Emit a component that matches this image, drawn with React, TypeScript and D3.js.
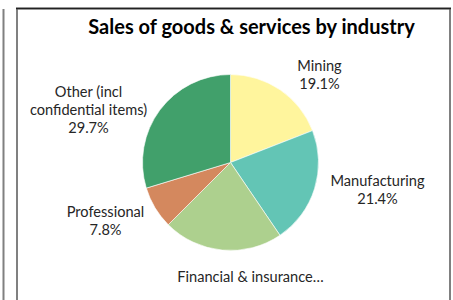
import * as d3 from 'd3';

const categories = ['Mining', 'Manufacturing', 'Financial & insurance…', 'Professional', 'Other (incl confidential items)'];
const shares = [19.1, 21.4, 22.0, 7.8, 29.7];
const colors = ['#FFF59D', '#63C5B5', '#ADD08E', '#D4885E', '#41A06B'];
const title = 'Sales of goods & services by industry';

// label placement relative to pie centre (Excel "best fit" look)
const labelLines: Record<string, string[]> = {
  Mining: ['Mining', '19.1%'],
  Manufacturing: ['Manufacturing', '21.4%'],
  'Financial & insurance…': ['Financial & insurance…'],
  Professional: ['Professional', '7.8%'],
  'Other (incl confidential items)': ['Other (incl', 'confidential items)', '29.7%'],
};
const labelPos: Record<string, [number, number]> = {
  Mining: [89, -87.5],
  Manufacturing: [147, 27.5],
  'Financial & insurance…': [20, 114.5],
  Professional: [-125, 58.5],
  'Other (incl confidential items)': [-142, -52.5],
};

const W = 453;
const H = 300;
const FONT = 'Lato, "Open Sans", sans-serif';

export default function App() {
  const cx = 230.5;
  const cy = 162.5;
  const radius = 88;

  const pie = d3.pie<number>().sort(null).value((d) => d);
  const arcs = pie(shares);
  const arcGen = d3.arc<d3.PieArcDatum<number>>().innerRadius(0).outerRadius(radius);

  const lineH = 18;

  return (
    <svg width={W} height={H} style={{ position: 'absolute', left: 0, top: 0, background: '#fff' }}>
      {/* neighbouring chart's frame edge */}
      <line x1={3.5} y1={9} x2={3.5} y2={H} stroke="#808080" strokeWidth={2} />
      {/* chart frame */}
      <rect x={17} y={8.5} width={433} height={300} fill="#fff" stroke="#808080" strokeWidth={2} />
      <line x1={16} y1={8.5} x2={451} y2={8.5} stroke="#222" strokeWidth={1.5} />

      <text x={251.5} y={34} textAnchor="middle" fontFamily={FONT} fontWeight="bold" fontSize={20} fill="#000">
        {title}
      </text>

      <g transform={`translate(${cx},${cy})`}>
        {arcs.map((a, i) => (
          <path key={i} d={arcGen(a) ?? ''} fill={colors[i]} stroke="#fff" strokeWidth={0.6} />
        ))}
        {categories.map((c) => {
          const [dx, dy] = labelPos[c];
          const lines = labelLines[c];
          const top = dy - ((lines.length - 1) * lineH) / 2;
          return (
            <text key={c} textAnchor="middle" fontFamily={FONT} fontSize={14.6} fill="#262626">
              {lines.map((t, j) => (
                <tspan key={j} x={dx} y={top + j * lineH + 5}>
                  {t}
                </tspan>
              ))}
            </text>
          );
        })}
      </g>
    </svg>
  );
}
